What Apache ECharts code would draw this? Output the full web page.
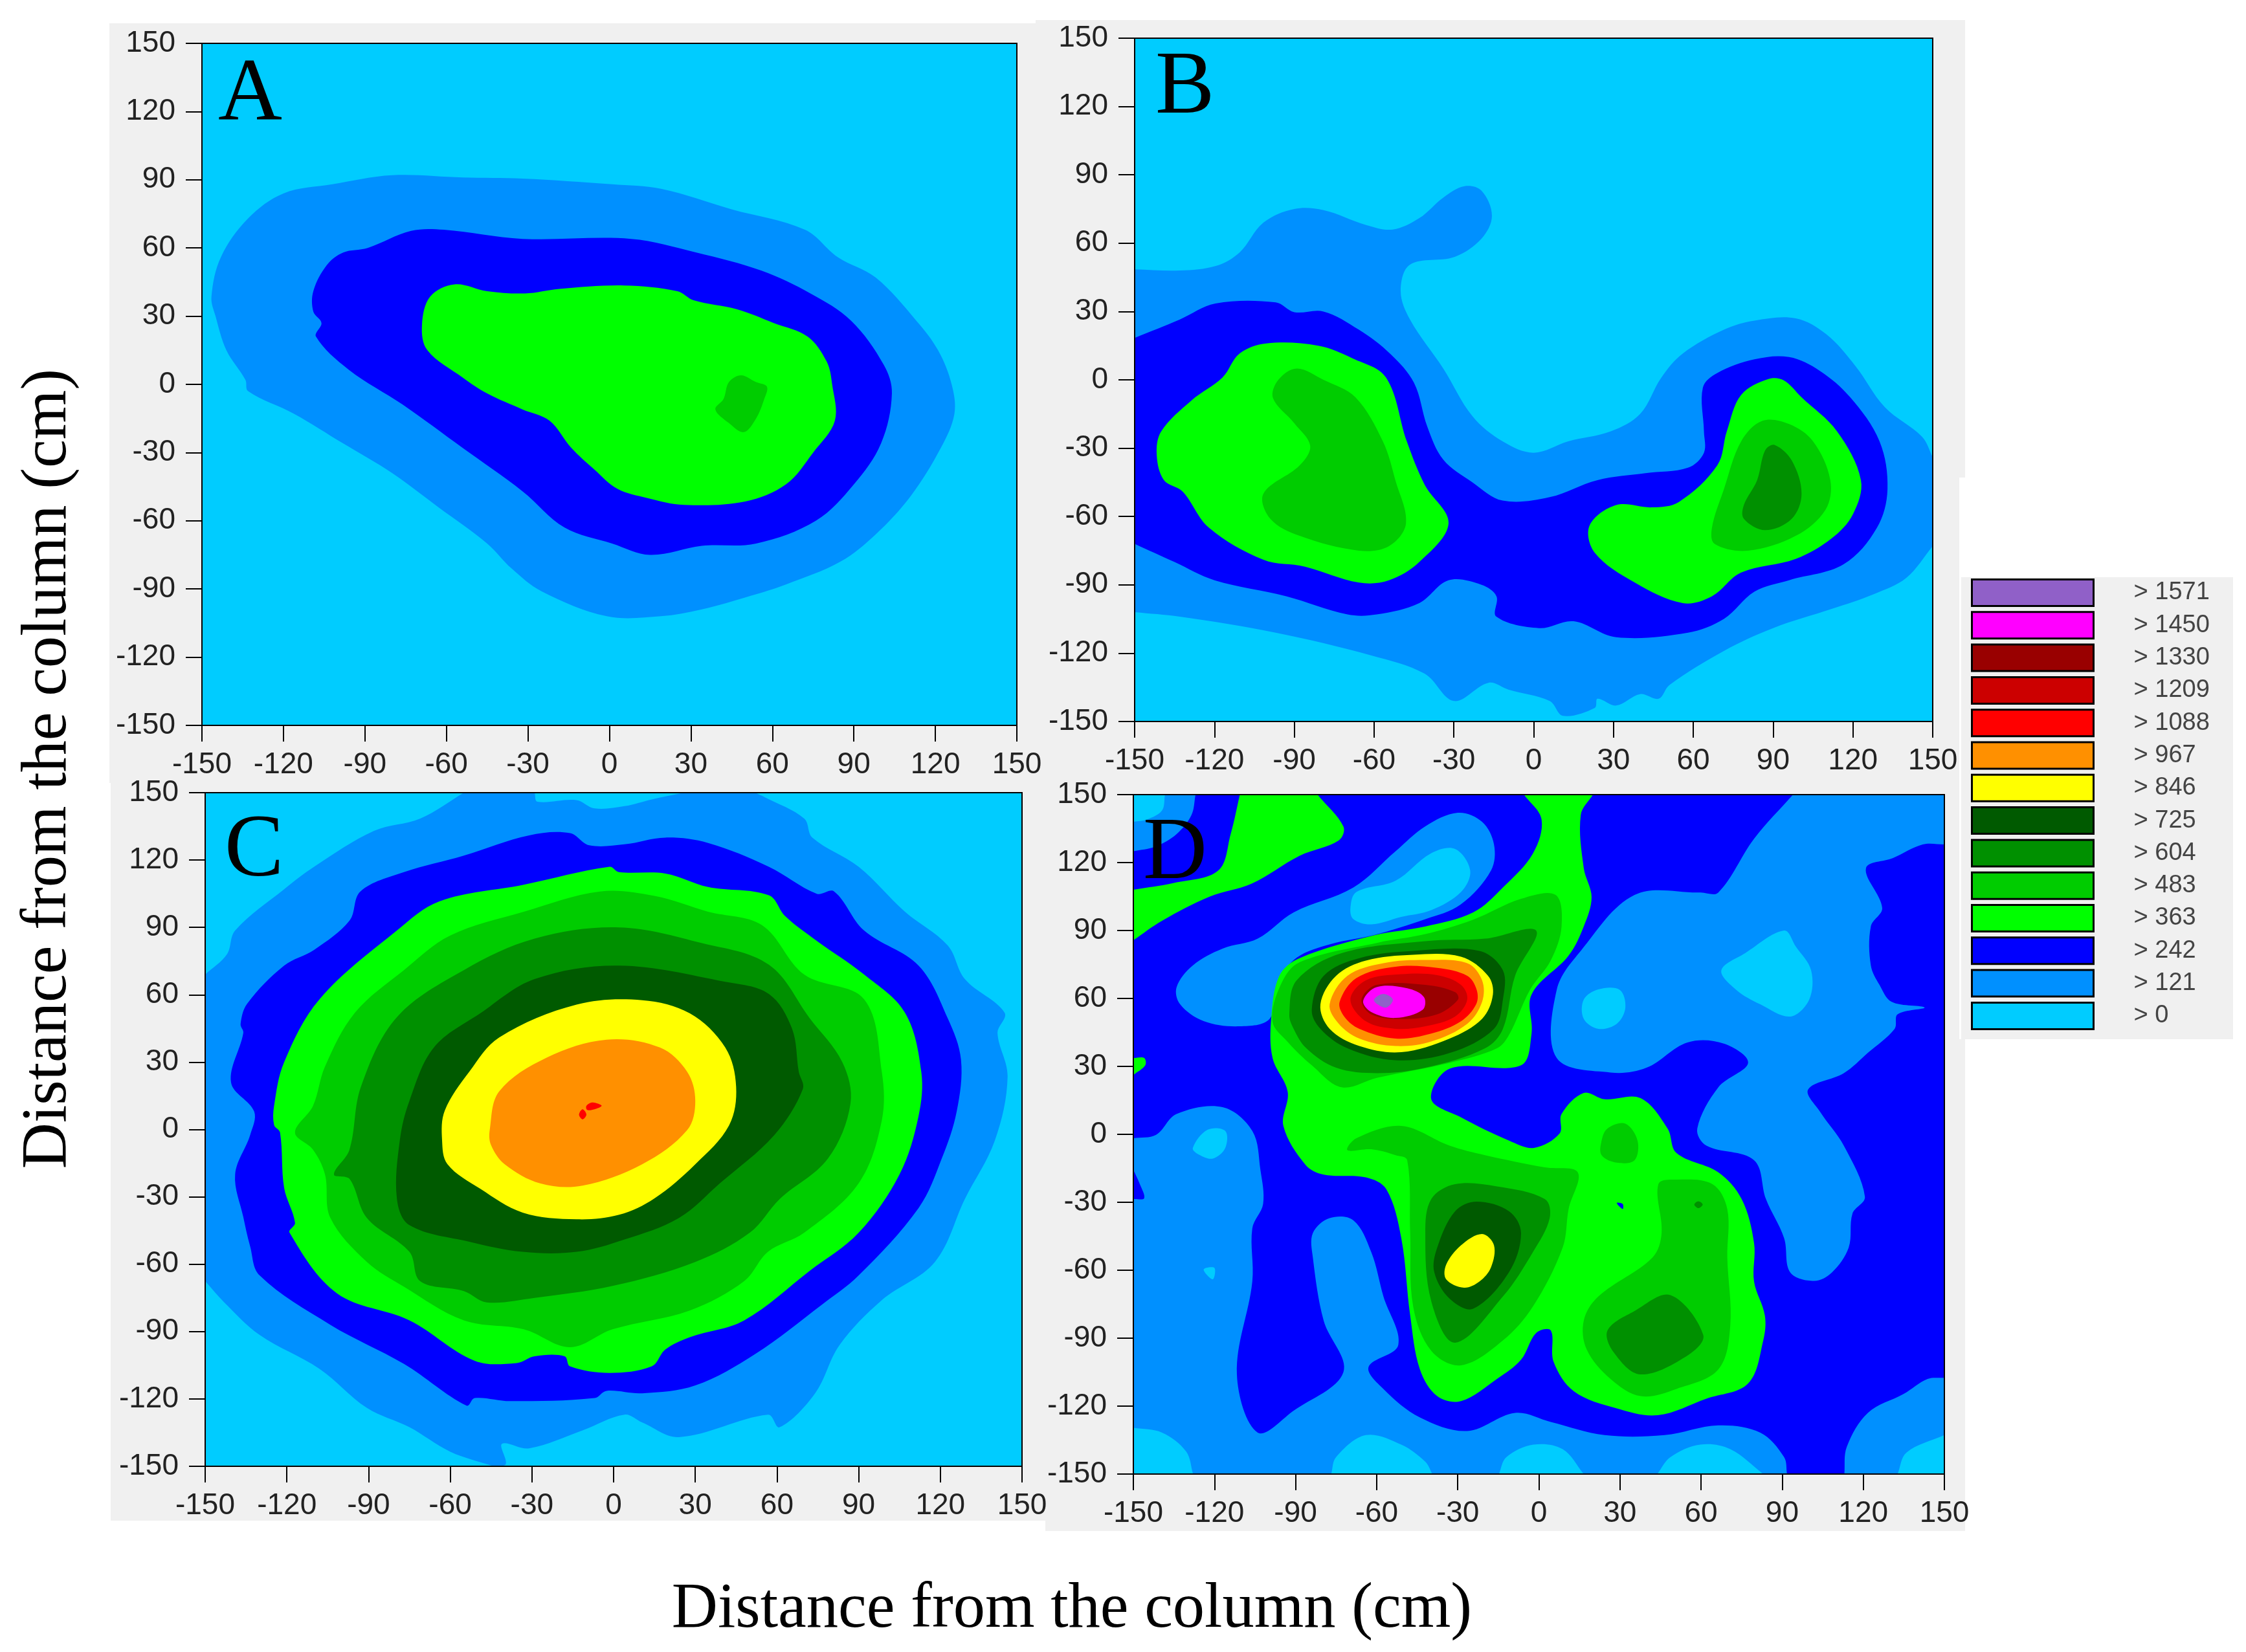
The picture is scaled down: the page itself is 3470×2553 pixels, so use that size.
<!DOCTYPE html>
<html><head><meta charset="utf-8">
<style>html,body{margin:0;padding:0;background:#fff}#c{width:3470px;height:2553px}</style>
<script src="https://cdn.jsdelivr.net/npm/echarts@6/dist/echarts.min.js"></script>
</head><body><div id="c"></div>
<script>
const ticks = [-150,-120,-90,-60,-30,0,30,60,90,120,150];
const levelNames = ['> 0','> 121','> 242','> 363','> 483','> 604','> 725','> 846','> 967','> 1088','> 1209','> 1330','> 1450','> 1571'];
const levelColors = ['#00ccff','#0090ff','#0000ff','#00ff00','#00cc00','#009000','#005a00','#ffff00','#ff9000','#ff0000','#cc0000','#990000','#ff00ff','#9060c8'];
const square = [[-150,150],[150,150],[150,-150],[-150,-150]];

// Panel A contours (cm, cm)
const A_121 = [[-146.5,38.6],[-143,56],[-133,73],[-120,84],[-102,88],[-80,92],[-54,91],[-32,90.5],[1,88],[19,86],[45,77],[72,68],[84,56],[98,47],[113,28],[121,15],[126,0],[127,-13],[122,-28],[111,-49],[98,-66],[85,-78],[65,-88],[52,-93],[34,-99],[19,-102],[-1,-102],[-25,-91],[-36,-81],[-45,-70],[-63,-54],[-80,-39],[-98,-26],[-116,-13],[-133,-3],[-134,2],[-141,15],[-145,30]];
const A_242 = [[-109,32],[-109,41],[-104,52.5],[-98,58],[-89,60],[-73,67.5],[-61,68],[-32,64],[8,64],[32,58],[56,50],[74,40],[89,28],[101,8.6],[104,-4],[100,-26],[90,-44],[76,-60],[54,-70],[34,-71],[15,-75],[1,-70],[-16.5,-63],[-32,-47],[-54,-28],[-76,-9],[-96,6.5],[-108,21],[-106,27]];
const A_363 = [[-57,44],[-66,38.6],[-69,26],[-67,15],[-54,3],[-45,-4],[-32,-11],[-22,-16],[-14,-28],[-5.5,-37.5],[3,-46],[14,-50],[27.5,-53],[50,-51.5],[65,-44],[75,-30],[83,-16],[82,0],[80,10],[73,21],[60.5,27],[47,33],[31,37],[25,41],[5.5,43.5],[-18.5,42],[-31,40],[-45,41]];
const A_483 = [[48.5,4],[44,1],[42,-6.5],[39,-11],[44,-17],[49.5,-21],[54,-15],[57,-6.5],[58,-1],[54,1]];

// Panel B contours
const B_121 = [[-150,48.5],[-133,48],[-119.5,50],[-110.5,56],[-101.6,69],[-90,75],[-79,74.5],[-63,68],[-53,66],[-43,71],[-34,80],[-26,85],[-19.6,83],[-15.7,72],[-19.6,62],[-29.7,54],[-46.5,50.6],[-50,39],[-46.5,26.5],[-34,5],[-23,-16],[-11.7,-27],[0,-32],[13,-27],[29,-22.6],[40,-15],[48,1],[56,11.5],[71.5,22],[83,26],[98.5,27],[110,20],[121,6],[132,-12],[146,-25],[150,-34],[150,-73],[140,-87],[128,-94],[112,-100.6],[90,-109],[71.5,-119],[51,-134],[47,-140],[40,-138],[31,-143],[24,-140],[23,-144],[11,-147.5],[6,-141],[-9.5,-136],[-17,-133],[-30,-141],[-41,-129],[-61,-121],[-97,-111],[-133,-104],[-150,-102]];
const B_242 = [[-150,18.4],[-133,26.5],[-119.6,33.5],[-97,34],[-90,29.7],[-79,30],[-65.7,22],[-54,11.5],[-45,-1.3],[-40,-20.5],[-34,-35],[-23,-45],[-11.7,-53],[6,-51.5],[24,-44],[42,-41],[58,-38.6],[64,-32],[64,-22.6],[63.6,-3.4],[69,3],[83,9],[96,10],[107.5,4],[119,-7.7],[130,-27],[133,-48],[129,-65],[116.5,-81],[96,-88],[83,-93],[71.5,-105],[58,-111],[31,-113],[15,-106],[2,-109],[-14,-104],[-14,-95],[-19.6,-90],[-32,-88],[-43,-98],[-59,-103],[-70,-103],[-93,-95],[-120,-88],[-135,-80],[-150,-72]];
const B_363_left = [[-100.5,16],[-110.6,11.5],[-117,1],[-128.6,-9],[-140,-22.6],[-141.7,-33],[-139,-44],[-132,-49],[-122,-65],[-101.6,-79],[-86,-82],[-65.7,-89],[-54.4,-88],[-43,-80],[-32,-63],[-41,-46],[-47.7,-27],[-55.5,1],[-68,9.4],[-81,15]];
const B_363_right = [[88.4,0.4],[78,-6.6],[72.6,-22.6],[69,-37.6],[54.6,-53.6],[44.5,-56],[31,-55],[21,-64],[23,-76],[38,-89],[56,-98],[67,-95],[78,-84.6],[98.5,-78.6],[112,-69.6],[120,-59],[123,-44],[114,-22.6],[100.7,-7.7],[94,-0.2]];
const B_483_left = [[-89,5],[-96,0],[-98,-8],[-90,-19],[-84,-29],[-88,-37.6],[-101.6,-50],[-99,-61],[-88,-68.5],[-65.7,-75],[-54.4,-73],[-48,-63],[-52,-44],[-56.7,-27],[-67,-7.7],[-79,0]];
const B_483_right = [[86,-18],[78,-27],[71.5,-48],[67,-65],[68,-72],[80.5,-75],[98.5,-68.5],[109.7,-57],[111.5,-44],[105,-27],[96,-19.4]];
const B_604 = [[90.6,-28.6],[87,-31],[84,-44],[79,-55],[79,-61],[87,-66],[97,-61],[100.7,-50],[97,-35.4]];

// Panel C contours
const C_121 = [[-150,69],[-142,78],[-139,88.6],[-121,107],[-110,117],[-88,133],[-71,138.5],[-55,150],[-29,150],[-28,146],[-13.7,146.7],[-7,143],[4,144],[14,147],[26,150],[52,150],[55.5,148],[70,138.5],[73,130],[90,117],[107,97],[122.7,82],[129,67],[143.6,52],[141,43],[144.7,23.5],[140,-5],[129,-31],[118,-59],[98.5,-76],[83,-96],[74,-117.5],[61,-132.6],[56.7,-127],[24,-137],[10.5,-130.5],[4,-127],[-11.4,-134],[-31,-142],[-41,-140],[-39.6,-149],[-44,-150],[-60,-143.5],[-75,-132.6],[-90.6,-124],[-108,-106.6],[-130,-91.5],[-143,-77],[-150,-67.5]];
const C_242 = [[-137,47],[-134.6,56],[-121,73],[-110,80],[-97,93],[-93,106],[-77,114.6],[-55,122],[-31,131],[-16,132],[-9,126.6],[4,127],[19,130],[34.7,127.6],[57,117],[74.6,105],[81,106],[92,88.6],[112,73],[122.7,49.6],[127.6,31],[126,8],[120.5,-13],[112,-35],[90,-65],[76.5,-78],[52,-100],[30,-114],[10.5,-117.5],[-2.6,-116.4],[-7,-119.6],[-38,-121],[-51,-119.6],[-54,-123],[-77,-104.4],[-104,-87],[-130,-65],[-133.5,-52],[-136,-39],[-139,-20],[-133.5,-2.5],[-132,8],[-140.5,21],[-136,43]];
const C_363 = [[-124.7,2],[-124.7,10.5],[-121,30],[-108,58],[-79.6,88.6],[-64,101.6],[-33,109],[-1.5,117],[2,114.6],[19,114],[34.7,108],[57,104.3],[63,95],[74.6,84],[92,69],[107,52],[113,25.7],[112,6],[105,-20],[90,-46],[72,-63],[48,-85],[28,-92.5],[19,-98],[14,-105.5],[-1.5,-108.4],[-16,-105.5],[-18,-101],[-29,-101],[-35.6,-104],[-51,-103],[-75,-85],[-101.6,-73],[-119,-46],[-117,-41.6],[-121,-26],[-122.5,-1.4]];
const C_483 = [[-117,-1.4],[-110.4,10.5],[-106,28],[-95,52],[-77,71],[-60,86.4],[-33,97],[-5,106],[15,104],[34.7,97],[54.5,91],[70,69],[92,58],[98.5,25.7],[98.5,4],[90,-24],[70,-46],[56.7,-54.5],[48,-67.5],[28,-80.6],[-0.4,-89],[-16,-97],[-33,-89],[-55,-85],[-77,-70],[-90.6,-59],[-104,-39.4],[-106,-20],[-110.4,-9]];
const C_604 = [[-102.7,-20],[-97,-9],[-92.8,19],[-79.6,50],[-55,71],[-29,85],[2,90],[32.5,83],[57,73.4],[72,49.6],[84,30],[87,11.6],[78.7,-13],[61,-31],[50,-46],[30,-59],[-0.4,-69.7],[-29,-75],[-46.6,-77],[-55,-72],[-71,-67.6],[-75,-54.5],[-90.6,-39.4],[-97,-22]];
const C_725 = [[-79.6,-30.7],[-78.5,-4.7],[-75,12.7],[-66,36.5],[-49,51.7],[-29,67],[2,73],[41,65.8],[57,60.4],[65.5,45],[68,25.7],[69.5,18],[59,-2.5],[39,-24],[24,-39.4],[4,-49],[-13.6,-54.5],[-33.4,-54.5],[-53,-50],[-75,-42.6]];
const C_846 = [[-63,-4.7],[-62,8.4],[-53,25.7],[-42,41],[-13.6,55.6],[10.5,57.6],[28,51.7],[41,36.5],[45,19],[42.4,1.8],[30,-15.5],[15,-30.7],[2,-38],[-13.6,-40],[-33.4,-37],[-49,-26.4],[-61,-15.5]];
const C_967 = [[-45.5,-0.3],[-42,17],[-24.6,32],[-2.6,40],[17,36.5],[27,25.7],[30,12.7],[27,-0.3],[10.5,-15.5],[-11.4,-25],[-27,-24],[-40,-15.5],[-45,-7]];
const C_1088_a = [[-10,10.5],[-8,12],[-6,11.6],[-4.4,10.5],[-7,9],[-9.7,8.7]];
const C_1088_b = [[-11.4,9],[-10,6.6],[-11.4,4.5],[-12.7,6.6]];

// Panel D contours
const D_121_corner = [[-150,150],[-127,150],[-128.5,141],[-134,132.6],[-142,127],[-150,125]];
const D_121_top = [[-134,65],[-128,74.6],[-117,82],[-104,86.4],[-90.7,98],[-68.6,109],[-53,125],[-42,136],[-30,142],[-21,138],[-16.6,128],[-17.7,116.5],[-29,101.4],[-42,95],[-61,88],[-77,84],[-89.6,78],[-96,68],[-99.6,51],[-110.6,47.7],[-124,50],[-132.7,57.4]];
const D_121_right = [[94,150],[150,150],[150,128],[142,128],[131,122],[121,117.5],[127,100],[122.8,91.8],[122.8,74.6],[126,66],[130.5,58.5],[142.7,56],[132.7,53],[131.6,46.6],[121.7,36],[112.8,27],[99.6,19.8],[104,10],[112.8,-5],[120.6,-27.5],[116,-35],[114.6,-50],[108.4,-61],[101.8,-64.7],[93,-61],[90.7,-45.8],[84,-28.6],[79.6,-11.4],[62,-5],[58.6,2.6],[66.4,20.8],[77.4,31.6],[68.6,40],[55,40.6],[39.8,29.4],[26.5,27.3],[6.6,33.7],[6.6,63.8],[15.5,81],[35.4,105.7],[59.7,106.8],[66.4,106.8],[79.6,130.5]];
const D_121_low = [[-150,-1.7],[-141.6,-0.2],[-134,9],[-117,12],[-106,1.5],[-103,-15.7],[-102,-30.7],[-106,-41.5],[-106,-65],[-111.7,-106],[-104,-131.7],[-90.7,-122],[-72.3,-105],[-79.6,-82.3],[-83.6,-54.4],[-83.6,-43.6],[-77.4,-37],[-68.6,-38],[-62,-52],[-57.5,-71.6],[-52,-93],[-63,-102.7],[-57.5,-112.4],[-44,-125],[-26.5,-131],[-8.8,-123],[4.4,-127],[24.3,-132.8],[46.5,-132.8],[66.4,-128.5],[81.9,-131.7],[90.7,-142.5],[91.8,-150],[-150,-150],[-150,-28.6],[-146,-28.2],[-147.6,-22],[-150,-15.7]];
const D_121_br = [[113,-150],[113.9,-138],[121.7,-123],[135,-114.6],[143.8,-108],[150,-107.5],[150,-150]];
const D_0_corner = [[-150,150],[-138.3,150],[-139.4,143],[-145,139],[-150,138]];
const D_0_top = [[-69.7,100],[-67.5,107],[-53,112],[-40,124],[-31,126],[-25.4,116.5],[-28.8,107],[-39.8,99],[-50.9,96],[-62,92.7],[-68.6,95]];
const D_0_right = [[67.5,72.4],[76.3,80],[90.7,90],[95,83],[100.7,72.4],[100,59.5],[93,52],[81.9,57.4],[73,63.8]];
const D_0_mid = [[16.6,59.5],[22,64],[29.9,63.8],[32,56],[28.8,48.8],[22,46.6],[16.6,51]];
const D_0_left = [[-128,-6],[-122.6,2],[-116,1.5],[-116,-6],[-120.6,-10.7],[-125.7,-9]];
const D_0_tiny = [[-124,-59.7],[-120,-59],[-120.6,-64]];
const D_0_b1 = [[-150,-129.6],[-139.4,-131.7],[-130.5,-140],[-127.9,-150],[-150,-150]];
const D_0_b2 = [[-76.8,-150],[-75,-142.5],[-64,-132.8],[-50.9,-137],[-42,-144.6],[-39.4,-150]];
const D_0_b3 = [[-14.8,-150],[-12,-142.5],[-2,-137],[8.8,-139],[16.6,-150]];
const D_0_b4 = [[43.8,-150],[48.7,-142.5],[59.7,-137],[70.8,-139],[83,-150]];
const D_0_b5 = [[132.7,-150],[136,-140.5],[150,-132.8],[150,-150]];
const D_363_top = [[-110.6,150],[-114,132.6],[-118.6,116.5],[-135,111],[-150,108],[-150,85.7],[-139.4,94.3],[-121.7,105],[-106.2,110.7],[-88.5,123],[-74,129.8],[-72.3,135.9],[-81.9,150]];
const D_363_edge = [[-150,33.7],[-146,33.7],[-145.6,30.5],[-150,26.2]];
const D_363_main = [[-5.5,150],[20,150],[15.5,141],[16.6,117.6],[19.5,104.7],[16.6,91.8],[11,78.9],[-2.7,61.7],[-2.7,44.5],[-6.6,30.5],[-33,29],[-39.8,15.5],[-28.8,7.5],[-11,-2.8],[-1.8,-6],[7.7,0.4],[8.4,9],[16.6,18.3],[24.3,15.5],[37.6,16],[47.6,2.6],[50.9,-8.2],[66.4,-16.8],[75,-28.6],[79.6,-48],[79.6,-65],[83.6,-80],[83,-91],[77.4,-110],[62,-116.7],[44,-124],[28.8,-121],[13,-113.5],[5.5,-100.6],[4.4,-86.6],[-1,-87.7],[-6.6,-99.5],[-15.5,-108],[-28.8,-117.8],[-37.6,-115.6],[-44,-103.8],[-47.6,-80],[-50.9,-45.8],[-56.4,-24.3],[-64,-19],[-79.6,-17.8],[-86.3,-13.5],[-94.5,3.7],[-92.9,18.7],[-98.5,33.7],[-99,51],[-96,70],[-88.5,77.8],[-60.8,87.9],[-42,91.8],[-24.3,98],[-13.3,109],[-2.2,124],[1,139]];
const D_483_hot = [[-98.6,50],[-95.5,66],[-88.5,76],[-59.7,84.6],[-42,88.4],[-24.3,94.8],[-6.6,104],[6.2,105.7],[8.4,91.8],[4.4,76.8],[-3.3,63.8],[-11,44],[-15.5,38],[-33,31.6],[-59.7,25],[-73,20.8],[-84,30.5],[-92.9,40.8]];
const D_483_low = [[-70.8,-7],[-67.5,-1.7],[-50.9,3.7],[-33,-5],[-19.9,-9.2],[2.2,-14.6],[14.4,-16.8],[11,-33],[8.8,-50],[-2.2,-76],[-13.3,-91],[-28.8,-102],[-39.8,-95.6],[-46.5,-76],[-47.6,-43.6],[-48.7,-11.4],[-53,-9.2],[-62,-6.6]];
const D_483_mid = [[23.2,-2.8],[25.4,2.6],[32,4.7],[36.5,-2.8],[35.4,-11.4],[28.8,-12.5],[23.2,-9.2]];
const D_483_right = [[44.2,-22],[50.9,-20],[64.2,-22],[69.7,-33],[69.7,-54.4],[70.8,-84.5],[66.4,-103.8],[50.9,-112.4],[37.6,-115.6],[26.5,-108],[17.7,-95],[16.6,-82.3],[22,-71.6],[42,-54.4],[45.4,-43.6]];
const D_604_hot = [[-92.3,53],[-89.6,68],[-73,80],[-42,85.3],[-19.9,86.4],[-1,90],[-8.8,70],[-13.3,46.6],[-19.9,38],[-42,29.4],[-59.7,27],[-75,29.4],[-86,38],[-90.7,46.6]];
const D_604_low = [[-39.8,-28.6],[-31,-22],[-15.5,-23],[2.2,-28.6],[4,-37],[-2.2,-52],[-13.3,-71.6],[-31,-92],[-39.8,-73.7],[-42,-43.6]];
const D_604_right = [[25.4,-86.6],[35.4,-78],[48.7,-71],[60.8,-88.6],[55.3,-97.4],[37.6,-106],[27.7,-96.3]];
const D_604_dot = [[57.5,-31],[59,-29.6],[60.6,-31],[59,-32.6]];
const D_725_hot = [[-84,55],[-79.6,70],[-66.4,77.8],[-46.5,81],[-22,81],[-13.3,72.4],[-13.3,59.5],[-16.6,46.6],[-33,35.9],[-53,32.7],[-70.8,38],[-80.8,46.6]];
const D_725_low = [[-37.6,-50],[-31,-34],[-23,-29.7],[-11,-34],[-6.6,-43.6],[-11,-60.8],[-24.3,-77],[-33,-72.6],[-38.7,-60.8]];
const D_846_hot = [[-80.8,57.4],[-75,70],[-64,76.7],[-46.5,79.3],[-28.8,78.4],[-18.8,70],[-17,61.7],[-21,51],[-33,42.3],[-50.9,36.3],[-66.4,39],[-77.4,46.6]];
const D_846_low = [[-34.3,-57.6],[-28.8,-49],[-21,-44],[-16.6,-49],[-17.7,-58.7],[-22,-65],[-27.7,-67.7],[-34.3,-64]];
const D_967 = [[-77.4,57.4],[-70.8,70],[-57.5,75.6],[-42,77],[-26.5,75.6],[-21,68],[-21,58.5],[-26.5,48.8],[-39.8,41],[-53,39],[-66.4,42.3],[-74,48.8]];
const D_1088 = [[-73.7,58.5],[-67.5,69],[-53,74],[-37.6,73.5],[-26.5,70],[-23,63.8],[-23.2,57.4],[-28.8,49.9],[-39.8,44.5],[-53,42.3],[-66.4,46.6],[-72,52]];
const D_1209 = [[-69.7,59.5],[-64,68],[-50.9,70.7],[-37.6,70.3],[-28.8,66],[-26.5,59.5],[-31,52],[-42,47.7],[-53,46.6],[-64,49.9]];
const D_1330 = [[-65.6,59.5],[-60,66],[-42,66],[-31,62.8],[-29.9,59.5],[-37.6,53],[-50.9,50.9],[-62,53]];
const D_1450 = [[-65,58.9],[-60,65],[-48.7,64.5],[-42.5,60.6],[-43,55],[-53,51.4],[-62,54]];
const D_1571 = [[-61,59.5],[-57.5,62],[-54,59.5],[-56.4,56],[-59.7,57.4]];
const D_242_speck = [[28.8,-30.3],[31,-30.7],[31,-33]];

// Paint order per panel: [level index, polygons]
const paintA = [[0,[square]],[1,[A_121]],[2,[A_242]],[3,[A_363]],[4,[A_483]]];
const paintB = [[0,[square]],[1,[B_121]],[2,[B_242]],[3,[B_363_left,B_363_right]],[4,[B_483_left,B_483_right]],[5,[B_604]]];
const paintC = [[0,[square]],[1,[C_121]],[2,[C_242]],[3,[C_363]],[4,[C_483]],[5,[C_604]],[6,[C_725]],[7,[C_846]],[8,[C_967]],[9,[C_1088_a,C_1088_b]]];
const paintD = [[2,[square]],[1,[D_121_corner,D_121_top,D_121_right,D_121_low,D_121_br]],[0,[D_0_corner,D_0_top,D_0_right,D_0_mid,D_0_left,D_0_tiny,D_0_b1,D_0_b2,D_0_b3,D_0_b4,D_0_b5]],[3,[D_363_top,D_363_edge,D_363_main]],[2,[D_242_speck]],[4,[D_483_hot,D_483_low,D_483_mid,D_483_right]],[5,[D_604_hot,D_604_low,D_604_right,D_604_dot]],[6,[D_725_hot,D_725_low]],[7,[D_846_hot,D_846_low]],[8,[D_967]],[9,[D_1088]],[10,[D_1209]],[11,[D_1330]],[12,[D_1450]],[13,[D_1571]]];
const paints = [paintA,paintB,paintC,paintD];

const panelBoxes = [
  {left:312,top:67,width:1259,height:1054,label:'A',lx:337,ly:80},
  {left:1753,top:59,width:1233,height:1056,label:'B',lx:1785,ly:70},
  {left:317,top:1225,width:1262,height:1041,label:'C',lx:347,ly:1249},
  {left:1751,top:1228,width:1253,height:1050,label:'D',lx:1766,ly:1253}
];
const axisTitle = 'Distance from the column (cm)';
const labelFont = 'Liberation Sans';

const grids=[],xAxes=[],yAxes=[],series=[];
panelBoxes.forEach((b,p)=>{
  grids.push({left:b.left,top:b.top,width:b.width,height:b.height,show:true,backgroundColor:'transparent',borderColor:'#000',borderWidth:2,z:10});
  const common = {type:'value',min:-150,max:150,interval:30,gridIndex:p,z:11,splitLine:{show:false},
    axisLine:{onZero:false,lineStyle:{color:'#000',width:2}},
    axisTick:{show:true,length:25,lineStyle:{color:'#000',width:2}}};
  const label = {fontFamily:labelFont,fontSize:46,color:'#222',hideOverlap:false,showMinLabel:true,showMaxLabel:true};
  xAxes.push(Object.assign({},common,{position:'bottom',axisLabel:Object.assign({margin:38},label)}));
  yAxes.push(Object.assign({},common,{position:'left',axisLabel:Object.assign({margin:41,padding:[5,0,0,0]},label)}));
  paints[p].forEach(([lvl,polys],order)=>{
    series.push({
      type:'custom',name:levelNames[lvl],coordinateSystem:'cartesian2d',xAxisIndex:p,yAxisIndex:p,
      z:2+order*0.01,clip:true,silent:true,animation:false,
      itemStyle:{color:levelColors[lvl]},
      data:polys.map((_,i)=>[i]),
      encode:{x:-1,y:-1},
      renderItem:(params,api)=>{
        const poly=polys[api.value(0)];
        // vertices lying on the plot frame are doubled so the spline keeps them sharp
        const pts=[];
        poly.forEach(q=>{
          const c=api.coord(q);
          pts.push(c);
          if(Math.abs(q[0])>=150||Math.abs(q[1])>=150) pts.push(c.slice());
        });
        return {type:'polygon',shape:{points:pts,smooth:0.35},style:{fill:levelColors[lvl],stroke:null}};
      }
    });
  });
});

const grayPanels = [[169,36,1463,1174],[1600,31,1436,707],[1600,738,1427,472],[171,1210,1445,1140],[1615,1205,1412,401],[1615,1606,1421,760],[3030,892,420,714]];
const graphics = grayPanels.map(r=>({type:'rect',z:-20,silent:true,shape:{x:r[0],y:r[1],width:r[2],height:r[3]},style:{fill:'#f0f0f0'}}));
panelBoxes.forEach(b=>graphics.push({type:'text',z:20,silent:true,x:b.lx,y:b.ly,style:{text:b.label,fill:'#000',font:'137px "Liberation Serif"',align:'left',verticalAlign:'top'}}));
graphics.push({type:'text',z:20,silent:true,x:1656,y:2488,style:{text:axisTitle,fill:'#000',font:'98.5px "Liberation Serif"',align:'center',verticalAlign:'middle'}});
graphics.push({type:'text',z:20,silent:true,x:75,y:1188,rotation:Math.PI/2,style:{text:axisTitle,fill:'#000',font:'98.5px "Liberation Serif"',align:'center',verticalAlign:'middle'}});

const chart = echarts.init(document.getElementById('c'),null,{renderer:'canvas',width:3470,height:2553});
chart.setOption({
  animation:false,backgroundColor:'#fff',
  grid:grids,xAxis:xAxes,yAxis:yAxes,series,graphic:graphics,
  legend:{show:true,orient:'vertical',left:3045,top:894,itemWidth:188,itemHeight:41,itemGap:6.3,selectedMode:false,padding:0,
    icon:'rect',data:levelNames.slice().reverse(),
    itemStyle:{borderColor:'#000',borderWidth:3},
    textStyle:{fontFamily:labelFont,fontSize:38,lineHeight:38,color:'#444',padding:[0,0,0,57]}}
});
</script></body></html>
